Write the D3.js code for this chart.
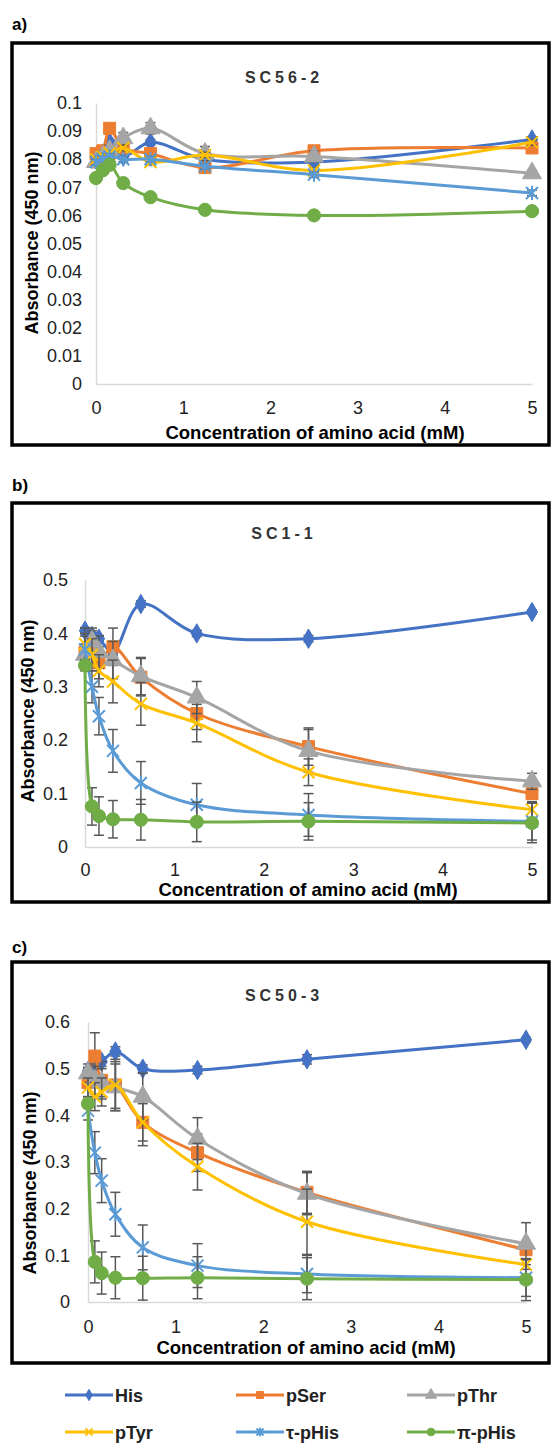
<!DOCTYPE html>
<html>
<head>
<meta charset="utf-8">
<script src="https://cdn.jsdelivr.net/npm/d3@7"></script>
<style>
  body { margin: 0; background: #fff; }
  svg { display: block; font-family: "Liberation Sans", Arial, sans-serif; }
</style>
</head>
<body>
<svg id="chart"></svg>
<script>
// concentrations (mM)
var concentrations = [0, 0.078, 0.156, 0.3125, 0.625, 1.25, 2.5, 5];
var seriesNames = ["His", "pSer", "pThr", "pTyr", "τ-pHis", "π-pHis"];
var seriesColors = ["#4472C4", "#ED7D31", "#A5A5A5", "#FFC000", "#5B9BD5", "#70AD47"];
var seriesMarkers = ["diamond", "square", "triangle", "x", "star", "circle"];

// SC56-2  (order: His, pSer, pThr, pTyr, τ-pHis, π-pHis)
var sc56Values = [
  [0.080, 0.082, 0.086, 0.081, 0.086, 0.080, 0.079, 0.087],
  [0.082, 0.083, 0.091, 0.084, 0.082, 0.077, 0.083, 0.084],
  [0.079, 0.081, 0.083, 0.0875, 0.091, 0.082, 0.081, 0.075],
  [0.080, 0.081, 0.082, 0.084, 0.079, 0.0815, 0.076, 0.086],
  [0.079, 0.080, 0.081, 0.080, 0.080, 0.0775, 0.0745, 0.068],
  [0.0733, 0.076, 0.078, 0.0715, 0.0665, 0.062, 0.060, 0.0615]
];
var sc56Errors = [
  [0.001, 0.001, 0.001, 0.001, 0.001, 0.001, 0.001, 0.001],
  [0.001, 0.001, 0.001, 0.001, 0.001, 0.001, 0.001, 0.001],
  [0.002, 0.002, 0.002, 0.002, 0.002, 0.0025, 0.002, 0.001],
  [0.001, 0.001, 0.001, 0.001, 0.001, 0.001, 0.001, 0.001],
  [0.001, 0.001, 0.001, 0.001, 0.001, 0.001, 0.001, 0.001],
  [0.001, 0.001, 0.001, 0.001, 0.001, 0.001, 0.001, 0.001]
];

// SC1-1
var sc1Values = [
  [0.405, 0.395, 0.390, 0.365, 0.455, 0.400, 0.390, 0.440],
  [0.365, 0.375, 0.345, 0.375, 0.318, 0.250, 0.188, 0.100],
  [0.360, 0.385, 0.365, 0.350, 0.320, 0.280, 0.180, 0.123],
  [0.380, 0.360, 0.330, 0.310, 0.268, 0.232, 0.140, 0.070],
  [0.370, 0.300, 0.245, 0.180, 0.120, 0.079, 0.060, 0.048],
  [0.340, 0.076, 0.058, 0.052, 0.051, 0.047, 0.048, 0.045]
];
var sc1Errors = [
  [0.006, 0.006, 0.006, 0.006, 0.006, 0.006, 0.006, 0.004],
  [0.030, 0.030, 0.030, 0.035, 0.035, 0.030, 0.035, 0.010],
  [0.020, 0.025, 0.030, 0.035, 0.035, 0.030, 0.040, 0.015],
  [0.030, 0.030, 0.030, 0.040, 0.040, 0.035, 0.025, 0.015],
  [0.030, 0.030, 0.035, 0.040, 0.040, 0.040, 0.040, 0.035],
  [0.010, 0.035, 0.036, 0.035, 0.038, 0.037, 0.035, 0.037]
];

// SC50-3
var sc50Values = [
  [0.495, 0.510, 0.515, 0.537, 0.500, 0.497, 0.520, 0.562],
  [0.470, 0.527, 0.475, 0.465, 0.385, 0.320, 0.235, 0.112],
  [0.490, 0.475, 0.470, 0.460, 0.440, 0.350, 0.232, 0.125],
  [0.460, 0.440, 0.450, 0.465, 0.385, 0.290, 0.172, 0.080],
  [0.410, 0.320, 0.260, 0.188, 0.117, 0.078, 0.060, 0.052],
  [0.425, 0.086, 0.062, 0.052, 0.051, 0.052, 0.050, 0.048]
];
var sc50Errors = [
  [0.008, 0.010, 0.010, 0.010, 0.008, 0.008, 0.010, 0.005],
  [0.030, 0.050, 0.040, 0.055, 0.050, 0.040, 0.045, 0.010],
  [0.020, 0.030, 0.030, 0.050, 0.050, 0.045, 0.045, 0.045],
  [0.020, 0.030, 0.030, 0.050, 0.040, 0.050, 0.070, 0.010],
  [0.020, 0.045, 0.047, 0.047, 0.048, 0.047, 0.040, 0.040],
  [0.010, 0.045, 0.045, 0.045, 0.047, 0.045, 0.045, 0.045]
];

var xTicks = [0, 1, 2, 3, 4, 5];
var yTicksA = [0, 0.01, 0.02, 0.03, 0.04, 0.05, 0.06, 0.07, 0.08, 0.09, 0.1];
var yTicksB = [0, 0.1, 0.2, 0.3, 0.4, 0.5];
var yTicksC = [0, 0.1, 0.2, 0.3, 0.4, 0.5, 0.6];

var width = 552, height = 1443;
var svg = d3.select("#chart").attr("width", width).attr("height", height);

// layout: tick/title values are text baselines
var panels = [
  { tag: "a)", title: "SC56-2", values: sc56Values, errors: sc56Errors, yTicks: yTicksA, yMax: 0.1,
    box: [12, 43, 549, 445], xr: [96, 532], yr: [384, 103], tagY: 30, titleY: 83,
    tickY: 414, xTitleY: 439, yTitleX: 38, yTitleY: 243, tickGap: 14, xTitleX: 315 },
  { tag: "b)", title: "SC1-1", values: sc1Values, errors: sc1Errors, yTicks: yTicksB, yMax: 0.5,
    box: [12, 503, 549, 902], xr: [85, 532], yr: [847, 580], tagY: 491, titleY: 539,
    tickY: 876, xTitleY: 896, yTitleX: 34, yTitleY: 711, tickGap: 17, xTitleX: 308 },
  { tag: "c)", title: "SC50-3", values: sc50Values, errors: sc50Errors, yTicks: yTicksC, yMax: 0.6,
    box: [12, 962, 549, 1363], xr: [88, 526], yr: [1302, 1022], tagY: 953, titleY: 1001,
    tickY: 1333, xTitleY: 1354, yTitleX: 36, yTitleY: 1183, tickGap: 18, xTitleX: 306 }
];

function markerPath(type, s) {
  if (type === "x") {
    return "M" + (-s) + "," + (-s) + "L" + s + "," + s + "M" + (-s) + "," + s + "L" + s + "," + (-s);
  }
  if (type === "star") {
    return "M" + (-s) + "," + (-s) + "L" + s + "," + s + "M" + (-s) + "," + s + "L" + s + "," + (-s) +
      "M0," + (-s * 1.2) + "L0," + (s * 1.2);
  }
  var sym = { diamond: d3.symbolDiamond, square: d3.symbolSquare, triangle: d3.symbolTriangle, circle: d3.symbolCircle }[type];
  var area = { diamond: 3 * s * s, square: 4 * s * s, triangle: 4.4 * s * s, circle: 3.8 * s * s }[type];
  return d3.symbol().type(sym).size(area)();
}

function drawMarker(g, type, color, x, y, s) {
  var open = (type === "x" || type === "star");
  g.append("path")
    .attr("d", markerPath(type, s))
    .attr("transform", "translate(" + x + "," + y + ")")
    .attr("fill", open ? "none" : color)
    .attr("stroke", color)
    .attr("stroke-width", open ? 2 : 1);
}

panels.forEach(function(p) {
  var g = svg.append("g");

  g.append("text").attr("x", 12).attr("y", p.tagY)
    .attr("font-size", 17).attr("font-weight", "bold").text(p.tag);

  g.append("rect")
    .attr("x", p.box[0]).attr("y", p.box[1])
    .attr("width", p.box[2] - p.box[0]).attr("height", p.box[3] - p.box[1])
    .attr("fill", "#fff").attr("stroke", "#000").attr("stroke-width", 3.5);

  g.append("text").attr("x", 284).attr("y", p.titleY)
    .attr("text-anchor", "middle").attr("font-size", 16).attr("font-weight", "bold")
    .attr("letter-spacing", 4).attr("fill", "#333").text(p.title);

  var x = d3.scaleLinear().domain([0, 5]).range(p.xr);
  var y = d3.scaleLinear().domain([0, p.yMax]).range(p.yr);

  var yAxis = d3.axisLeft(y).tickValues(p.yTicks).tickSize(0).tickPadding(p.tickGap)
    .tickFormat(function(d) { return +d.toFixed(2); });
  var ya = g.append("g").attr("transform", "translate(" + p.xr[0] + ",0)").call(yAxis);
  ya.select(".domain").attr("stroke", "#D9D9D9").attr("stroke-width", 1.5);
  ya.selectAll("text").attr("font-size", 18).attr("fill", "#222")
    .attr("font-family", "'Liberation Sans', Arial, sans-serif");

  var xAxis = d3.axisBottom(x).tickValues(xTicks).tickSize(0).tickPadding(0)
    .tickFormat(d3.format("d"));
  var xa = g.append("g").attr("transform", "translate(0," + p.yr[0] + ")").call(xAxis);
  xa.select(".domain").attr("stroke", "#D9D9D9").attr("stroke-width", 1.5);
  xa.selectAll("text").attr("font-size", 18).attr("fill", "#222")
    .attr("font-family", "'Liberation Sans', Arial, sans-serif")
    .attr("dy", null).attr("y", p.tickY - p.yr[0]);

  g.append("text").attr("x", p.xTitleX).attr("y", p.xTitleY)
    .attr("text-anchor", "middle").attr("font-size", 18.5).attr("font-weight", "bold")
    .text("Concentration of amino acid (mM)");

  g.append("text")
    .attr("transform", "translate(" + p.yTitleX + "," + p.yTitleY + ") rotate(-90)")
    .attr("text-anchor", "middle").attr("font-size", 18).attr("font-weight", "bold")
    .text("Absorbance (450 nm)");

  var line = d3.line()
    .x(function(d) { return x(d[0]); })
    .y(function(d) { return y(d[1]); })
    .curve(d3.curveCatmullRom.alpha(0.5));

  p.values.forEach(function(vals, si) {
    var color = seriesColors[si];
    var pts = concentrations.map(function(c, i) { return [c, vals[i], p.errors[si][i]]; });
    var sg = g.append("g");

    // error bars
    pts.forEach(function(d) {
      var cx = x(d[0]), y1 = y(d[1] + d[2]), y2 = y(Math.max(0, d[1] - d[2]));
      sg.append("line").attr("x1", cx).attr("x2", cx).attr("y1", y1).attr("y2", y2)
        .attr("stroke", "#595959").attr("stroke-width", 1.5);
      [y1, y2].forEach(function(yy) {
        sg.append("line").attr("x1", cx - 5).attr("x2", cx + 5).attr("y1", yy).attr("y2", yy)
          .attr("stroke", "#595959").attr("stroke-width", 1.5);
      });
    });

    sg.append("path").datum(pts).attr("d", line)
      .attr("fill", "none").attr("stroke", color).attr("stroke-width", 3);

    pts.forEach(function(d) {
      drawMarker(sg, seriesMarkers[si], color, x(d[0]), y(d[1]), 6);
    });
  });
});

// legend
var legendCols = [65, 236, 407];
var legendRows = [1395, 1432];
seriesNames.forEach(function(name, i) {
  var lx = legendCols[i % 3], ly = legendRows[Math.floor(i / 3)];
  var lg = svg.append("g");
  lg.append("line").attr("x1", lx).attr("x2", lx + 48).attr("y1", ly).attr("y2", ly)
    .attr("stroke", seriesColors[i]).attr("stroke-width", 3);
  drawMarker(lg, seriesMarkers[i], seriesColors[i], lx + 24, ly, 3.5);
  lg.append("text").attr("x", lx + 50).attr("y", ly + 6.5)
    .attr("font-size", 18).attr("font-weight", "bold").attr("fill", "#222").text(name);
});
</script>
</body>
</html>
